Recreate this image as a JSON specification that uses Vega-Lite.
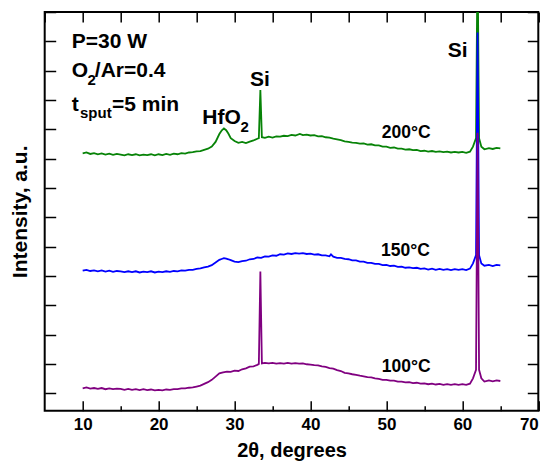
{
  "$schema": "https://vega.github.io/schema/vega-lite/v6.json",
  "width": 493.6,
  "height": 398.7,
  "autosize": {"type": "none"},
  "padding": {"left": 44.7, "top": 12, "right": 9.7, "bottom": 51.3},
  "background": "white",
  "config": {
    "view": {"stroke": "#000", "strokeWidth": 2},
    "font": "Liberation Sans",
    "axis": {"grid": false, "domain": false, "tickColor": "#000", "tickWidth": 1.5, "labelColor": "#000", "titleColor": "#000", "labelFont": "Liberation Sans", "titleFont": "Liberation Sans", "labelFontWeight": "bold", "titleFontWeight": "bold"}
  },
  "datasets": {
    "xrd": [
      {"s":"200","x":10,"y":818},{"s":"200","x":10.5,"y":821},{"s":"200","x":11,"y":816},{"s":"200","x":11.5,"y":819},{"s":"200","x":12,"y":815},{"s":"200","x":12.5,"y":818},{"s":"200","x":13,"y":814},{"s":"200","x":13.5,"y":817},{"s":"200","x":14,"y":813},{"s":"200","x":14.5,"y":816},{"s":"200","x":15,"y":814},{"s":"200","x":15.5,"y":811},{"s":"200","x":16,"y":815},{"s":"200","x":16.5,"y":812},{"s":"200","x":17,"y":815},{"s":"200","x":17.5,"y":811},{"s":"200","x":18,"y":814},{"s":"200","x":18.5,"y":812},{"s":"200","x":19,"y":815},{"s":"200","x":19.5,"y":811},{"s":"200","x":20,"y":815},{"s":"200","x":20.5,"y":812},{"s":"200","x":21,"y":816},{"s":"200","x":21.5,"y":813},{"s":"200","x":22,"y":817},{"s":"200","x":22.5,"y":815},{"s":"200","x":23,"y":819},{"s":"200","x":23.5,"y":817},{"s":"200","x":24,"y":821},{"s":"200","x":24.5,"y":822},{"s":"200","x":25,"y":825},{"s":"200","x":25.5,"y":826},{"s":"200","x":26,"y":830},{"s":"200","x":26.5,"y":834},{"s":"200","x":27,"y":841},{"s":"200","x":27.5,"y":857},{"s":"200","x":28,"y":884},{"s":"200","x":28.3,"y":896},{"s":"200","x":28.6,"y":903},{"s":"200","x":28.9,"y":897},{"s":"200","x":29.2,"y":885},{"s":"200","x":29.5,"y":870},{"s":"200","x":30,"y":860},{"s":"200","x":30.5,"y":854},{"s":"200","x":31,"y":857},{"s":"200","x":31.5,"y":853},{"s":"200","x":32,"y":858},{"s":"200","x":32.5,"y":862},{"s":"200","x":33,"y":868},{"s":"200","x":33.2,"y":870},{"s":"200","x":33.4,"y":1034},{"s":"200","x":33.6,"y":873},{"s":"200","x":34,"y":871},{"s":"200","x":34.5,"y":875},{"s":"200","x":35,"y":872},{"s":"200","x":35.5,"y":876},{"s":"200","x":36,"y":875},{"s":"200","x":36.5,"y":878},{"s":"200","x":37,"y":877},{"s":"200","x":37.5,"y":881},{"s":"200","x":38,"y":879},{"s":"200","x":38.6,"y":884},{"s":"200","x":39,"y":880},{"s":"200","x":39.5,"y":882},{"s":"200","x":40,"y":879},{"s":"200","x":40.5,"y":880},{"s":"200","x":41,"y":876},{"s":"200","x":41.5,"y":877},{"s":"200","x":42,"y":873},{"s":"200","x":42.5,"y":872},{"s":"200","x":43,"y":868},{"s":"200","x":43.5,"y":866},{"s":"200","x":44,"y":863},{"s":"200","x":44.5,"y":859},{"s":"200","x":45,"y":857},{"s":"200","x":45.5,"y":855},{"s":"200","x":46,"y":854},{"s":"200","x":46.5,"y":851},{"s":"200","x":47,"y":852},{"s":"200","x":47.5,"y":848},{"s":"200","x":48,"y":849},{"s":"200","x":48.5,"y":845},{"s":"200","x":49,"y":845},{"s":"200","x":49.5,"y":841},{"s":"200","x":50,"y":841},{"s":"200","x":50.5,"y":837},{"s":"200","x":51,"y":838},{"s":"200","x":51.5,"y":834},{"s":"200","x":52,"y":834},{"s":"200","x":52.5,"y":831},{"s":"200","x":53,"y":832},{"s":"200","x":53.5,"y":829},{"s":"200","x":54,"y":830},{"s":"200","x":54.5,"y":826},{"s":"200","x":55,"y":827},{"s":"200","x":55.5,"y":824},{"s":"200","x":56,"y":826},{"s":"200","x":56.5,"y":823},{"s":"200","x":57,"y":825},{"s":"200","x":57.5,"y":822},{"s":"200","x":58,"y":824},{"s":"200","x":58.5,"y":821},{"s":"200","x":59,"y":823},{"s":"200","x":59.5,"y":821},{"s":"200","x":60,"y":823},{"s":"200","x":60.5,"y":820},{"s":"200","x":61,"y":824},{"s":"200","x":61.4,"y":841},{"s":"200","x":61.8,"y":870},{"s":"200","x":62,"y":1500},{"s":"200","x":62.2,"y":870},{"s":"200","x":62.5,"y":841},{"s":"200","x":62.9,"y":832},{"s":"200","x":63.5,"y":836},{"s":"200","x":64,"y":833},{"s":"200","x":64.5,"y":837},{"s":"200","x":65,"y":835},
      {"s":"150","x":10,"y":418},{"s":"150","x":10.5,"y":421},{"s":"150","x":11,"y":417},{"s":"150","x":11.5,"y":419},{"s":"150","x":12,"y":416},{"s":"150","x":12.5,"y":419},{"s":"150","x":13,"y":415},{"s":"150","x":13.5,"y":418},{"s":"150","x":14,"y":414},{"s":"150","x":14.5,"y":417},{"s":"150","x":15,"y":416},{"s":"150","x":15.5,"y":413},{"s":"150","x":16,"y":416},{"s":"150","x":16.5,"y":413},{"s":"150","x":17,"y":416},{"s":"150","x":17.5,"y":412},{"s":"150","x":18,"y":415},{"s":"150","x":18.5,"y":413},{"s":"150","x":19,"y":416},{"s":"150","x":19.5,"y":412},{"s":"150","x":20,"y":415},{"s":"150","x":20.5,"y":413},{"s":"150","x":21,"y":416},{"s":"150","x":21.5,"y":414},{"s":"150","x":22,"y":417},{"s":"150","x":22.5,"y":416},{"s":"150","x":23,"y":419},{"s":"150","x":23.5,"y":418},{"s":"150","x":24,"y":421},{"s":"150","x":24.5,"y":421},{"s":"150","x":25,"y":424},{"s":"150","x":25.5,"y":426},{"s":"150","x":26,"y":429},{"s":"150","x":26.5,"y":432},{"s":"150","x":27,"y":437},{"s":"150","x":27.5,"y":446},{"s":"150","x":28,"y":455},{"s":"150","x":28.3,"y":458},{"s":"150","x":28.6,"y":461},{"s":"150","x":28.9,"y":459},{"s":"150","x":29.2,"y":457},{"s":"150","x":29.5,"y":454},{"s":"150","x":30,"y":449},{"s":"150","x":30.5,"y":447},{"s":"150","x":31,"y":451},{"s":"150","x":31.5,"y":452},{"s":"150","x":32,"y":457},{"s":"150","x":32.5,"y":458},{"s":"150","x":33,"y":463},{"s":"150","x":33.5,"y":462},{"s":"150","x":34,"y":467},{"s":"150","x":34.5,"y":466},{"s":"150","x":35,"y":470},{"s":"150","x":35.5,"y":469},{"s":"150","x":36,"y":474},{"s":"150","x":36.5,"y":473},{"s":"150","x":37,"y":477},{"s":"150","x":37.5,"y":475},{"s":"150","x":38,"y":478},{"s":"150","x":38.5,"y":476},{"s":"150","x":39,"y":478},{"s":"150","x":39.5,"y":475},{"s":"150","x":40,"y":476},{"s":"150","x":40.5,"y":473},{"s":"150","x":41,"y":474},{"s":"150","x":41.5,"y":470},{"s":"150","x":42,"y":470},{"s":"150","x":42.5,"y":467},{"s":"150","x":42.7,"y":474},{"s":"150","x":43,"y":466},{"s":"150","x":43.5,"y":462},{"s":"150","x":44,"y":462},{"s":"150","x":44.5,"y":458},{"s":"150","x":45,"y":457},{"s":"150","x":45.5,"y":453},{"s":"150","x":46,"y":453},{"s":"150","x":46.5,"y":449},{"s":"150","x":47,"y":449},{"s":"150","x":47.5,"y":445},{"s":"150","x":48,"y":445},{"s":"150","x":48.5,"y":441},{"s":"150","x":49,"y":441},{"s":"150","x":49.5,"y":437},{"s":"150","x":50,"y":438},{"s":"150","x":50.5,"y":434},{"s":"150","x":51,"y":435},{"s":"150","x":51.5,"y":431},{"s":"150","x":52,"y":432},{"s":"150","x":52.5,"y":428},{"s":"150","x":53,"y":429},{"s":"150","x":53.5,"y":427},{"s":"150","x":54,"y":428},{"s":"150","x":54.5,"y":424},{"s":"150","x":55,"y":426},{"s":"150","x":55.5,"y":422},{"s":"150","x":56,"y":425},{"s":"150","x":56.5,"y":421},{"s":"150","x":57,"y":424},{"s":"150","x":57.5,"y":421},{"s":"150","x":58,"y":423},{"s":"150","x":58.5,"y":420},{"s":"150","x":59,"y":423},{"s":"150","x":59.5,"y":421},{"s":"150","x":60,"y":423},{"s":"150","x":60.5,"y":420},{"s":"150","x":61,"y":425},{"s":"150","x":61.4,"y":443},{"s":"150","x":61.8,"y":471},{"s":"150","x":62,"y":1230},{"s":"150","x":62.2,"y":471},{"s":"150","x":62.5,"y":443},{"s":"150","x":62.9,"y":435},{"s":"150","x":63.5,"y":438},{"s":"150","x":64,"y":434},{"s":"150","x":64.5,"y":438},{"s":"150","x":65,"y":436},
      {"s":"100","x":10,"y":17},{"s":"100","x":10.5,"y":20},{"s":"100","x":11,"y":16},{"s":"100","x":11.5,"y":18},{"s":"100","x":12,"y":15},{"s":"100","x":12.5,"y":18},{"s":"100","x":13,"y":14},{"s":"100","x":13.5,"y":17},{"s":"100","x":14,"y":14},{"s":"100","x":14.5,"y":16},{"s":"100","x":15,"y":15},{"s":"100","x":15.5,"y":12},{"s":"100","x":16,"y":15},{"s":"100","x":16.5,"y":12},{"s":"100","x":17,"y":14},{"s":"100","x":17.5,"y":11},{"s":"100","x":18,"y":14},{"s":"100","x":18.5,"y":11},{"s":"100","x":19,"y":13},{"s":"100","x":19.5,"y":10},{"s":"100","x":20,"y":12},{"s":"100","x":20.5,"y":10},{"s":"100","x":21,"y":13},{"s":"100","x":21.5,"y":12},{"s":"100","x":22,"y":14},{"s":"100","x":22.5,"y":14},{"s":"100","x":23,"y":17},{"s":"100","x":23.5,"y":17},{"s":"100","x":24,"y":19},{"s":"100","x":24.5,"y":20},{"s":"100","x":25,"y":23},{"s":"100","x":25.5,"y":26},{"s":"100","x":26,"y":32},{"s":"100","x":26.5,"y":38},{"s":"100","x":27,"y":46},{"s":"100","x":27.5,"y":57},{"s":"100","x":28,"y":68},{"s":"100","x":28.5,"y":71},{"s":"100","x":29,"y":74},{"s":"100","x":29.5,"y":73},{"s":"100","x":30,"y":77},{"s":"100","x":30.5,"y":76},{"s":"100","x":31,"y":82},{"s":"100","x":31.5,"y":85},{"s":"100","x":32,"y":91},{"s":"100","x":32.5,"y":92},{"s":"100","x":33,"y":97},{"s":"100","x":33.2,"y":100},{"s":"100","x":33.4,"y":415},{"s":"100","x":33.6,"y":102},{"s":"100","x":34,"y":104},{"s":"100","x":34.5,"y":102},{"s":"100","x":35,"y":104},{"s":"100","x":35.5,"y":101},{"s":"100","x":36,"y":103},{"s":"100","x":36.5,"y":101},{"s":"100","x":37,"y":104},{"s":"100","x":37.5,"y":101},{"s":"100","x":38,"y":103},{"s":"100","x":38.5,"y":101},{"s":"100","x":39,"y":102},{"s":"100","x":39.5,"y":99},{"s":"100","x":40,"y":98},{"s":"100","x":40.5,"y":96},{"s":"100","x":41,"y":95},{"s":"100","x":41.5,"y":92},{"s":"100","x":42,"y":90},{"s":"100","x":42.5,"y":86},{"s":"100","x":43,"y":84},{"s":"100","x":43.5,"y":79},{"s":"100","x":44,"y":76},{"s":"100","x":44.5,"y":70},{"s":"100","x":45,"y":68},{"s":"100","x":45.5,"y":65},{"s":"100","x":46,"y":63},{"s":"100","x":46.5,"y":60},{"s":"100","x":47,"y":58},{"s":"100","x":47.5,"y":55},{"s":"100","x":48,"y":54},{"s":"100","x":48.5,"y":51},{"s":"100","x":49,"y":49},{"s":"100","x":49.5,"y":46},{"s":"100","x":50,"y":46},{"s":"100","x":50.5,"y":43},{"s":"100","x":51,"y":43},{"s":"100","x":51.5,"y":40},{"s":"100","x":52,"y":40},{"s":"100","x":52.5,"y":37},{"s":"100","x":53,"y":38},{"s":"100","x":53.5,"y":35},{"s":"100","x":54,"y":36},{"s":"100","x":54.5,"y":33},{"s":"100","x":55,"y":34},{"s":"100","x":55.5,"y":31},{"s":"100","x":56,"y":33},{"s":"100","x":56.5,"y":30},{"s":"100","x":57,"y":32},{"s":"100","x":57.5,"y":29},{"s":"100","x":58,"y":31},{"s":"100","x":58.5,"y":29},{"s":"100","x":59,"y":31},{"s":"100","x":59.5,"y":29},{"s":"100","x":60,"y":31},{"s":"100","x":60.5,"y":29},{"s":"100","x":61,"y":33},{"s":"100","x":61.4,"y":51},{"s":"100","x":61.8,"y":80},{"s":"100","x":62,"y":888},{"s":"100","x":62.2,"y":80},{"s":"100","x":62.5,"y":51},{"s":"100","x":62.9,"y":40},{"s":"100","x":63.5,"y":44},{"s":"100","x":64,"y":41},{"s":"100","x":64.5,"y":44},{"s":"100","x":65,"y":42}
    ],
    "labels": [
      {"x":8.56,"y":1176,"text":"P=30 W"},
      {"x":8.56,"y":1077,"text":"O"},
      {"x":11.6,"y":1077,"text":"/Ar=0.4"},
      {"x":8.56,"y":964,"text":"t"},
      {"x":13.86,"y":964,"text":"=5 min"},
      {"x":25.76,"y":918,"text":"HfO"},
      {"x":32.04,"y":1048,"text":"Si"},
      {"x":58.08,"y":1148,"text":"Si"}
    ],
    "subs": [
      {"x":10.65,"y":1051,"text":"2"},
      {"x":9.65,"y":937,"text":"sput"},
      {"x":30.8,"y":892,"text":"2"}
    ],
    "temps": [
      {"x":49.39,"y":869,"text":"200°C"},
      {"x":49.3,"y":468,"text":"150°C"},
      {"x":49.39,"y":74,"text":"100°C"}
    ]
  },
  "layer": [
    {
      "data": {"name": "xrd"},
      "transform": [{"filter": "datum.s == '200'"}],
      "mark": {"type": "line", "color": "#078307", "strokeWidth": 1.8, "clip": true},
      "encoding": {
        "x": {"field": "x", "type": "quantitative", "scale": {"domain": [5, 70], "nice": false, "zero": false},
              "axis": {"orient": "bottom", "values": [10, 20, 30, 40, 50, 60, 70], "tickSize": -10, "labelFontSize": 17, "labelPadding": 16, "title": "2θ, degrees", "titleFontSize": 20, "titlePadding": 8}},
        "y": {"field": "y", "type": "quantitative", "scale": {"domain": [-59.3, 1300], "nice": false, "zero": false},
              "axis": {"orient": "left", "values": [0,100,200,300,400,500,600,700,800,900,1000,1100,1200,1300], "tickSize": -11, "labels": false, "title": "Intensity, a.u.", "titleFontSize": 21, "titlePadding": 13}}
      }
    },
    {
      "data": {"name": "xrd"},
      "transform": [{"filter": "datum.s == '150'"}],
      "mark": {"type": "line", "color": "#0000ff", "strokeWidth": 1.8, "clip": true},
      "encoding": {
        "x": {"field": "x", "type": "quantitative", "scale": {"domain": [5, 70], "nice": false, "zero": false}, "axis": null},
        "y": {"field": "y", "type": "quantitative", "scale": {"domain": [-59.3, 1300], "nice": false, "zero": false}, "axis": null}
      }
    },
    {
      "data": {"name": "xrd"},
      "transform": [{"filter": "datum.s == '100'"}],
      "mark": {"type": "line", "color": "#800080", "strokeWidth": 1.8, "clip": true},
      "encoding": {
        "x": {"field": "x", "type": "quantitative", "scale": {"domain": [5, 70], "nice": false, "zero": false}, "axis": null},
        "y": {"field": "y", "type": "quantitative", "scale": {"domain": [-59.3, 1300], "nice": false, "zero": false}, "axis": null}
      }
    },
    {
      "data": {"name": "labels"},
      "mark": {"type": "text", "align": "left", "baseline": "alphabetic", "fontSize": 21, "fontWeight": "bold", "font": "Liberation Sans", "color": "#000"},
      "encoding": {
        "x": {"field": "x", "type": "quantitative", "scale": {"domain": [5, 70], "nice": false, "zero": false},
              "axis": {"orient": "top", "values": [5,10,15,20,25,30,35,40,45,50,55,60,65,70], "tickSize": -10, "labels": false, "title": null}},
        "y": {"field": "y", "type": "quantitative", "scale": {"domain": [-59.3, 1300], "nice": false, "zero": false},
              "axis": {"orient": "right", "values": [0,100,200,300,400,500,600,700,800,900,1000,1100,1200,1300], "tickSize": -11, "labels": false, "title": null}},
        "text": {"field": "text"}
      }
    },
    {
      "data": {"name": "subs"},
      "mark": {"type": "text", "align": "left", "baseline": "alphabetic", "fontSize": 15, "fontWeight": "bold", "font": "Liberation Sans", "color": "#000"},
      "encoding": {
        "x": {"field": "x", "type": "quantitative", "scale": {"domain": [5, 70], "nice": false, "zero": false},
              "axis": {"orient": "bottom", "values": [15, 25, 35, 45, 55, 65], "tickSize": -5, "labels": false, "title": null}},
        "y": {"field": "y", "type": "quantitative", "scale": {"domain": [-59.3, 1300], "nice": false, "zero": false}, "axis": null},
        "text": {"field": "text"}
      }
    },
    {
      "data": {"name": "temps"},
      "mark": {"type": "text", "align": "left", "baseline": "alphabetic", "fontSize": 17.5, "fontWeight": "bold", "font": "Liberation Sans", "color": "#000"},
      "encoding": {
        "x": {"field": "x", "type": "quantitative", "scale": {"domain": [5, 70], "nice": false, "zero": false}, "axis": null},
        "y": {"field": "y", "type": "quantitative", "scale": {"domain": [-59.3, 1300], "nice": false, "zero": false}, "axis": null},
        "text": {"field": "text"}
      }
    }
  ],
  "resolve": {"axis": {"x": "independent", "y": "independent"}}
}
